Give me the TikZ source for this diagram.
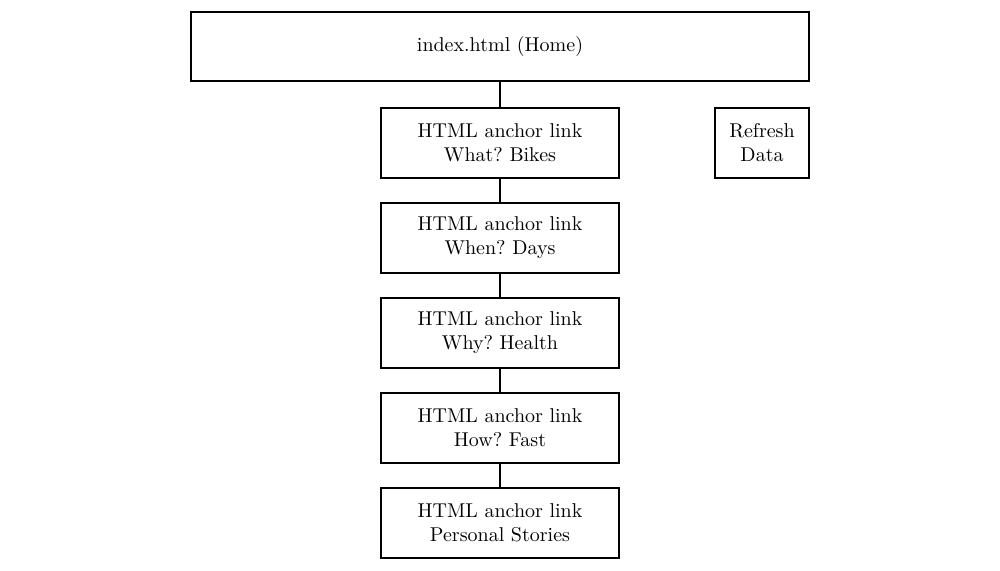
\documentclass[tikz,border=0pt]{standalone}
\usepackage{tikz}
\frenchspacing

\begin{document}
\begin{tikzpicture}[x=0.5pt,y=-0.5pt,line width=0.8pt,
                    every node/.style={draw,rectangle,align=center,inner sep=2pt,
                      minimum height=35pt,font=\normalsize,line width=0.8pt},
                    pagebox/.style={minimum width=119pt},
                    homebox/.style={minimum width=309pt,minimum height=34.5pt},
                    sidebox/.style={minimum width=47pt}]
  \useasboundingbox (0,0) rectangle (1000,571);
  \node[homebox] (home) at (500,46.5) {index.html (Home)};
  \node[pagebox] (what) at (500,143) {HTML anchor link\\What? Bikes};
  \node[pagebox] (when) at (500,238) {HTML anchor link\\When? Days};
  \node[pagebox] (why) at (500,333) {HTML anchor link\\Why? Health};
  \node[pagebox] (how) at (500,428) {HTML anchor link\\How? Fast};
  \node[pagebox] (stories) at (500,523) {HTML anchor link\\Personal Stories};
  \node[sidebox] (refresh) at (762,143) {Refresh\\Data};
  \draw (home)--(what);
  \draw (what)--(when);
  \draw (when)--(why);
  \draw (why)--(how);
  \draw (how)--(stories);
\end{tikzpicture}
\end{document}
